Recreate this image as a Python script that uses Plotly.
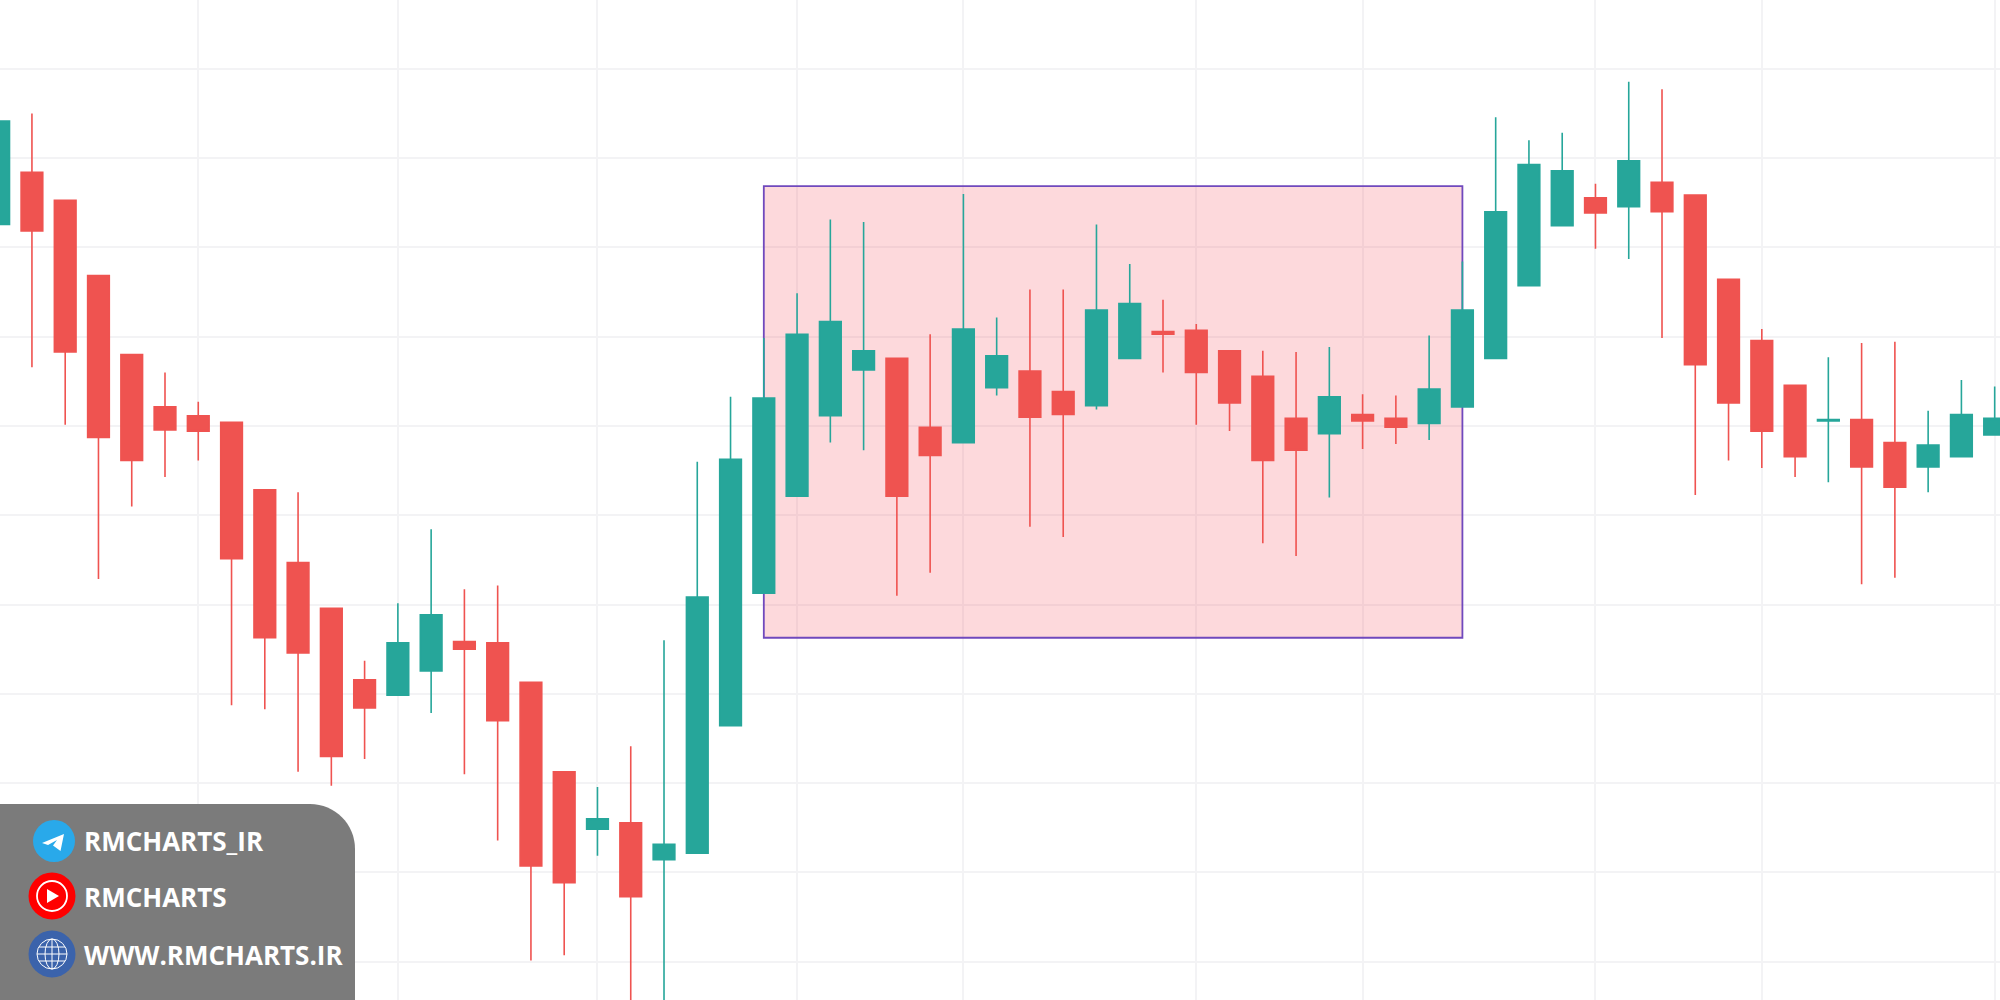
import plotly.graph_objects as go

W, H = 2000, 1000

# candle values
candle_idx = list(range(61))
open_ = [1578, 1619, 1597, 1538, 1476, 1435, 1428, 1423, 1370, 1313, 1277, 1221, 1209, 1228, 1251, 1250,
         1219, 1149, 1104, 1109, 1080, 1085, 1185, 1289, 1365, 1428, 1464, 1473, 1419, 1407, 1450, 1463,
         1447, 1436, 1473, 1494, 1495, 1479, 1459, 1426, 1414, 1429, 1426, 1422, 1435, 1473, 1530, 1577,
         1599, 1592, 1611, 1601, 1535, 1487, 1452, 1424, 1425, 1407, 1388, 1396, 1413]
high = [1659, 1665, 1597, 1538, 1476, 1462, 1439, 1423, 1370, 1368, 1277, 1236, 1281, 1339, 1292, 1295,
        1219, 1149, 1137, 1169, 1252, 1392, 1443, 1489, 1524, 1582, 1580, 1473, 1492, 1602, 1505, 1527,
        1527, 1578, 1547, 1519, 1500, 1479, 1479, 1478, 1482, 1445, 1444, 1491, 1549, 1662, 1644, 1650,
        1610, 1690, 1684, 1601, 1535, 1496, 1452, 1474, 1485, 1486, 1432, 1456, 1451]
low = [1578, 1466, 1421, 1300, 1357, 1380, 1393, 1201, 1198, 1149, 1138, 1159, 1209, 1195, 1147, 1095,
       1001, 1005, 1083, 964, 964, 1085, 1185, 1289, 1365, 1407, 1401, 1287, 1305, 1407, 1444, 1341,
       1333, 1433, 1473, 1462, 1421, 1416, 1328, 1318, 1364, 1402, 1406, 1409, 1435, 1473, 1530, 1577,
       1559, 1551, 1489, 1366, 1393, 1387, 1380, 1376, 1296, 1301, 1368, 1396, 1413]
close = [1659, 1573, 1478, 1411, 1393, 1417, 1416, 1316, 1254, 1242, 1161, 1199, 1250, 1272, 1245, 1189,
         1075, 1062, 1112, 1051, 1092, 1286, 1394, 1442, 1492, 1502, 1479, 1365, 1397, 1496, 1475, 1427,
         1429, 1511, 1516, 1492, 1462, 1438, 1393, 1401, 1443, 1424, 1419, 1449, 1511, 1588, 1625, 1620,
         1587, 1628, 1588, 1468, 1438, 1416, 1396, 1425, 1388, 1372, 1405, 1429, 1426]
grid_x = [6, 12, 18, 24, 29, 36, 41, 48, 53, 60]
zone_x = [23, 44]
zone_y = [1254, 1608]
labels = ["RMCHARTS_IR", "RMCHARTS", "WWW.RMCHARTS.IR"]


def px(x):
    return x / W


def py(y):
    return 1 - y / H


def path(points):
    # points are window pixels, turned into paper coords for the overlay
    out = []
    for cmd, *xy in points:
        coords = [f"{px(xy[i]):.5f},{py(xy[i + 1]):.5f}" for i in range(0, len(xy), 2)]
        out.append(cmd + " " + " ".join(coords))
    return " ".join(out)


def paper_shape(**kw):
    return dict(xref="paper", yref="paper", layer="above", **kw)


def circle(cx, cy, rx, ry=None, **kw):
    ry = rx if ry is None else ry
    return paper_shape(type="circle", x0=px(cx - rx), x1=px(cx + rx), y0=py(cy + ry), y1=py(cy - ry), **kw)


fig = go.Figure(go.Candlestick(
    x=candle_idx, open=open_, high=high, low=low, close=close,
    increasing=dict(line=dict(color="#26a69a", width=1.6), fillcolor="#26a69a"),
    decreasing=dict(line=dict(color="#ef5350", width=1.6), fillcolor="#ef5350"),
    whiskerwidth=0, showlegend=False,
))

shapes = [
    dict(type="rect", x0=zone_x[0], x1=zone_x[1], y0=zone_y[0], y1=zone_y[1], layer="between",
         fillcolor="rgba(242,54,69,0.19)", line=dict(color="#7049bd", width=1.8)),
    # watermark panel
    paper_shape(type="path", path=path([("M", 0, 804), ("L", 310, 804), ("C", 335, 804, 355, 824, 355, 849),
                                        ("L", 355, 1000), ("L", 0, 1000), ("Z",)]),
                fillcolor="rgba(118,118,118,0.96)", line=dict(width=0)),
    # telegram
    circle(54, 841, 21, fillcolor="#29a9ea", line=dict(width=0)),
    paper_shape(type="path", path=path([("M", 42, 843), ("L", 64, 834), ("L", 60.5, 851), ("L", 53, 845.5),
                                        ("L", 57, 840), ("L", 48, 845), ("Z",)]),
                fillcolor="white", line=dict(width=0)),
    # youtube
    circle(52, 896, 23.5, fillcolor="#ff0000", line=dict(width=0)),
    circle(52, 896, 15, fillcolor="rgba(0,0,0,0)", line=dict(color="white", width=1.8)),
    paper_shape(type="path", path=path([("M", 47, 889), ("L", 59, 896), ("L", 47, 903), ("Z",)]),
                fillcolor="white", line=dict(width=0)),
    # globe
    circle(52, 954, 23.5, fillcolor="#3b63ab", line=dict(width=0)),
    circle(52, 954, 15, fillcolor="rgba(0,0,0,0)", line=dict(color="white", width=1)),
    circle(52, 954, 7, 15, fillcolor="rgba(0,0,0,0)", line=dict(color="white", width=1)),
    paper_shape(type="path", path=path([("M", 52, 939), ("L", 52, 969), ("M", 37, 954), ("L", 67, 954),
                                        ("M", 39, 947), ("L", 65, 947), ("M", 39, 961), ("L", 65, 961)]),
                line=dict(color="white", width=1)),
]

label_y = [841, 897, 955]
annotations = [
    dict(x=px(82), y=py(yy), xref="paper", yref="paper", xanchor="left", yanchor="middle", showarrow=False,
         text=f"<b>{t}</b>", font=dict(family="Open Sans", size=26, color="white"))
    for t, yy in zip(labels, label_y)
]

fig.update_layout(
    width=W, height=H, margin=dict(l=0, r=0, t=0, b=0),
    paper_bgcolor="white", plot_bgcolor="white", boxgap=0.07,
    shapes=shapes, annotations=annotations,
    xaxis=dict(range=[0.04, 60.16], tickmode="array", tickvals=grid_x, showticklabels=False, ticks="",
               showgrid=True, gridcolor="#f3f3f5", gridwidth=1.6, zeroline=False,
               rangeslider=dict(visible=False), showline=False),
    yaxis=dict(range=[970, 1754], tick0=1000, dtick=70, showticklabels=False, ticks="",
               showgrid=True, gridcolor="#f3f3f5", gridwidth=1.6, zeroline=False, showline=False),
)

fig.write_html("out.html", config=dict(displayModeBar=False),
               post_script="document.body.style.margin='0';document.body.style.overflow='hidden';")
